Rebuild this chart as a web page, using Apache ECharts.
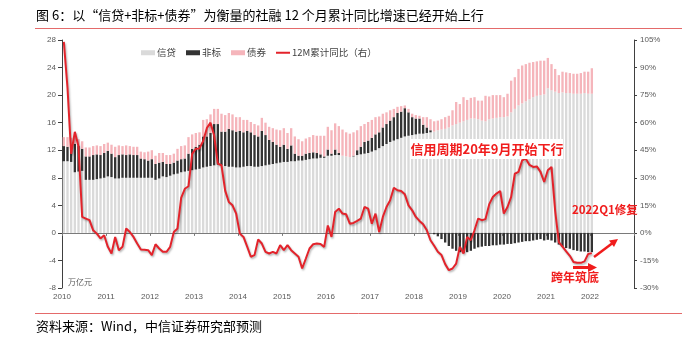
<!DOCTYPE html>
<html><head><meta charset="utf-8">
<script src="https://cdn.jsdelivr.net/npm/echarts@6/dist/echarts.min.js"></script>
<style>html,body{margin:0;padding:0;background:#fff}#c{width:682px;height:339px}</style>
</head><body><div id="c"></div>
<script>
// ---- data (万亿元, 12个月累计; monthly 2010-01 .. 2022-01) ----
const startYear = 2010;
const monthCount = 156; // axis spans 2010-01 .. 2022-12
const seriesNames = ['信贷', '非标', '债券', '12M累计同比（右）'];
const loans = [
  10.4,10.4,10.3,8.8,8.9,9.0,7.7,7.7,7.7,7.8,7.9,8.0,
  8.2,8.1,7.9,7.9,8.0,8.0,8.0,8.0,8.0,8.0,8.0,8.0,
  8.0,7.7,7.9,8.2,8.1,8.3,8.5,8.6,8.8,8.9,9.0,9.1,
  9.2,9.3,9.5,9.6,9.7,9.8,9.9,9.8,9.7,9.6,9.6,9.5,
  9.5,9.6,9.7,9.7,9.6,9.6,9.7,9.8,9.9,10.0,10.1,10.2,
  10.3,10.3,10.4,10.4,10.5,10.5,10.6,10.7,10.8,10.8,10.9,10.9,
  11.2,11.2,11.3,11.3,11.2,11.1,11.0,11.1,11.3,11.4,11.5,11.6,
  11.8,12.0,12.3,12.6,12.9,13.2,13.4,13.6,13.8,14.0,14.1,14.2,
  14.3,14.4,14.4,14.5,14.6,14.7,14.9,15.0,15.1,15.3,15.6,15.8,
  16.0,16.2,16.4,16.6,16.6,16.5,16.3,16.2,16.5,16.6,16.7,16.8,
  16.8,16.9,17.5,18.0,18.5,18.8,19.1,19.4,19.7,19.9,20.0,20.1,
  21.0,20.7,20.5,20.3,20.4,20.3,20.3,20.2,20.2,20.2,20.3,20.2,
  20.2
];
const nonStandard = [
  2.2,2.1,1.7,4.1,3.7,3.2,3.4,3.4,3.6,3.6,3.4,3.6,
  3.7,3.4,3.1,3.4,3.4,3.3,3.4,3.3,3.3,2.8,2.7,2.5,
  2.7,2.3,2.3,2.1,1.9,1.7,1.7,1.9,1.9,1.9,2.5,3.1,
  3.3,3.5,4.5,4.4,4.8,6.0,5.9,4.9,5.0,5.5,5.3,5.2,
  5.3,5.0,5.1,4.9,4.6,4.4,5.1,4.4,3.6,3.2,2.7,2.3,
  2.5,1.9,2.3,1.1,0.7,0.7,0.9,0.9,0.9,0.8,0.5,0.2,
  0.9,0.3,0.8,0.3,0.0,0.0,0.0,0.1,0.7,1.1,1.7,1.8,
  2.0,2.3,2.3,2.7,2.9,3.1,3.4,3.8,3.8,4.1,3.4,2.6,
  2.3,2.2,1.3,0.8,0.3,-0.2,-0.5,-0.9,-1.4,-1.9,-2.3,-2.6,
  -2.8,-2.9,-2.8,-2.6,-2.3,-2.1,-2.0,-1.9,-1.9,-1.8,-1.8,-1.7,
  -1.7,-1.6,-1.6,-1.5,-1.4,-1.3,-1.2,-1.2,-1.1,-1.0,-0.9,-1.1,
  -1.0,-1.1,-1.4,-1.7,-2.0,-2.2,-2.3,-2.5,-2.6,-2.7,-2.7,-2.8,
  -2.8
];
const bonds = [
  1.3,1.4,1.8,1.0,1.0,1.1,1.3,1.3,1.3,1.3,1.3,1.3,
  1.2,1.3,1.5,1.4,1.2,1.4,1.2,1.2,1.2,1.0,1.0,1.3,
  1.3,1.2,1.4,1.3,1.3,1.3,1.3,1.7,1.9,1.9,2.4,2.1,
  2.0,1.8,2.4,2.5,2.7,2.2,2.2,2.6,2.4,2.3,2.3,2.1,
  2.0,1.8,1.6,1.5,1.6,1.6,1.9,1.8,1.9,2.0,2.2,2.4,
  2.4,2.3,2.5,2.5,2.4,2.1,2.2,2.3,2.5,2.5,2.7,3.0,
  3.3,3.4,3.8,3.9,3.8,3.5,3.4,3.4,2.9,3.0,2.6,2.7,
  2.6,2.5,2.3,2.0,1.7,1.5,1.2,0.9,0.8,0.4,0.5,0.5,
  0.5,0.4,1.1,1.5,1.6,1.5,1.4,1.5,1.7,1.7,2.2,3.2,
  2.7,3.5,2.9,3.0,3.1,2.7,2.9,3.7,3.3,3.4,3.3,3.2,
  2.9,3.3,4.6,4.6,5.3,5.5,5.4,5.3,5.1,5.0,5.0,4.9,
  4.4,3.8,3.3,2.6,3.0,3.0,2.9,2.9,2.9,3.0,3.1,3.2,
  3.7
];
const growthPct = [
  104,79,43,55,47,8.7,7.8,6.9,1.4,-0.4,-3,-1.3,
  -7.6,-11.2,-2.2,-9.4,-7.6,2.4,0.5,-2.2,-5.8,-9,-9.2,-9.4,
  -12.1,-6.2,-8.5,-10.3,-10.3,-7.6,0.5,2.4,19,24,25.4,43,
  45.8,46,50,57,60,53,37.7,36.8,23,16.8,15,10.5,
  -0.4,-2.2,-7.5,-13,-12.1,-3.6,-5.8,-10.3,-11.2,-10.3,-11.2,-6.7,
  -9.4,-6.7,-9.4,-11.2,-13,-19.4,-14,-8.5,-6.2,-5.8,-6,-7.6,
  4,-2.2,11.4,13.2,10.5,10.1,5,5.4,6.5,7.8,14.1,13.2,
  5,10.5,0.5,8.7,14.1,17.8,24.6,23.2,22.8,21,15,12.3,
  8.7,6.5,4.7,1.4,-4,-7,-10.3,-12.1,-17,-20.3,-19.4,-16.7,
  -7.6,-11.2,-2.2,-4,1.4,7.8,6.9,7.5,15.5,19.5,21.4,22.8,
  10.5,14.1,19.6,32.2,33.2,39.5,40.4,37,35.9,36.2,33.2,27.7,
  34.1,35.9,12,-5,-7.5,-10,-12.5,-15.8,-16.3,-16.3,-15.5,-11.5,
  -11
];
const leftTicks = {min: -8, max: 28, interval: 4};
const rightTicks = {min: -30, max: 105, interval: 15};

// month categories
const months = [];
for (let i = 0; i < monthCount; i++) {
  const y = startYear + Math.floor(i / 12), m = i % 12 + 1;
  months.push(y + '-' + (m < 10 ? '0' + m : m));
}

const CJK = '"Noto Sans CJK SC", "Noto Sans", sans-serif';
const NUM = '"Liberation Sans", Arial, sans-serif';
const RED = '#f01c1c';
const LINE_RED = '#e3232b';
const axisGray = '#595959';
// thin line legend icon (2px bar centred in a 14x5 box; corner specks are invisible)
const lineIcon = 'path://M0,1.5L14,1.5L14,3.5L0,3.5Z M0,0L0.01,0L0.01,0.01Z M13.99,4.99L14,4.99L14,5L13.99,5Z';

const chart = echarts.init(document.getElementById('c'), null, {renderer: 'canvas'});
chart.setOption({
  animation: false,
  backgroundColor: '#fff',
  grid: {left: 62, right: 48, top: 40, bottom: 51, containLabel: false},
  legend: {
    left: 136, top: 43, itemGap: 10, itemWidth: 14, itemHeight: 5,
    textStyle: {fontFamily: CJK, fontSize: 9.5, color: '#404040', padding: [0, 0, 0, -3]},
    data: [
      {name: seriesNames[0], icon: 'rect'},
      {name: seriesNames[1], icon: 'rect'},
      {name: seriesNames[2], icon: 'rect'},
      {name: seriesNames[3], icon: lineIcon, itemStyle: {color: LINE_RED}}
    ]
  },
  xAxis: [
    {
      type: 'category', data: months, boundaryGap: true,
      axisLine: {onZero: true, lineStyle: {color: '#7a7a7a', width: 1}},
      axisTick: {show: true, length: 3, interval: (i) => i % 12 === 0, lineStyle: {color: '#7a7a7a'}},
      axisLabel: {show: false}, splitLine: {show: false}
    },
    {
      type: 'value', position: 'bottom', min: 0, max: monthCount, interval: 12,
      axisLine: {show: false, onZero: false}, axisTick: {show: false}, splitLine: {show: false},
      axisLabel: {
        showMaxLabel: false, margin: 5, fontFamily: NUM, fontSize: 8, color: axisGray,
        formatter: (v) => String(startYear + v / 12)
      }
    }
  ],
  yAxis: [
    {
      type: 'value', min: leftTicks.min, max: leftTicks.max, interval: leftTicks.interval,
      axisLine: {show: true, lineStyle: {color: '#404040'}},
      axisTick: {show: true, length: 4, lineStyle: {color: '#404040'}},
      axisLabel: {margin: 6, fontFamily: NUM, fontSize: 8, color: axisGray},
      splitLine: {show: false}
    },
    {
      type: 'value', position: 'right', min: rightTicks.min, max: rightTicks.max, interval: rightTicks.interval,
      axisLine: {show: true, lineStyle: {color: '#404040'}},
      axisTick: {show: true, length: 3, lineStyle: {color: '#404040'}},
      axisLabel: {margin: 6, fontFamily: NUM, fontSize: 8, color: axisGray, formatter: '{value}%'},
      splitLine: {show: false}
    }
  ],
  series: [
    {name: seriesNames[0], type: 'bar', stack: 'tsf', data: loans, barWidth: '64%',
     itemStyle: {color: '#dadada'}, z: 2},
    {name: seriesNames[1], type: 'bar', stack: 'tsf', data: nonStandard, barWidth: '64%',
     itemStyle: {color: '#333333'}, z: 2},
    {name: seriesNames[2], type: 'bar', stack: 'tsf', data: bonds, barWidth: '64%',
     itemStyle: {color: '#f5b5bb'}, z: 2},
    {name: seriesNames[3], type: 'line', yAxisIndex: 1, data: growthPct,
     symbol: 'none', showSymbol: false, smooth: false,
     lineStyle: {color: LINE_RED, width: 2, shadowColor: 'rgba(0,0,0,0.3)', shadowBlur: 2, shadowOffsetX: 1, shadowOffsetY: 1.5},
     itemStyle: {color: LINE_RED}, z: 5}
  ],
  graphic: [
    {type: 'text', x: 36, y: 15, z: 10,
     style: {text: '图 6：以“信贷+非标+债券”为衡量的社融 12 个月累计同比增速已经开始上行',
             font: '13px ' + CJK, fill: '#000', verticalAlign: 'middle'}},
    {type: 'line', shape: {x1: 35, y1: 28.5, x2: 682, y2: 28.5}, z: 10,
     style: {stroke: '#e46a6a', lineWidth: 1}},
    {type: 'line', shape: {x1: 35, y1: 313.5, x2: 682, y2: 313.5}, z: 10,
     style: {stroke: '#e46a6a', lineWidth: 1}},
    {type: 'text', x: 36, y: 326, z: 10,
     style: {text: '资料来源：Wind，中信证券研究部预测', font: '13px ' + CJK, fill: '#000', verticalAlign: 'middle'}},
    {type: 'text', x: 68, y: 282, z: 10,
     style: {text: '万亿元', font: '8px ' + CJK, fill: axisGray, verticalAlign: 'middle'}},
    {type: 'rect', shape: {x: 411, y: 139, width: 152, height: 20}, z: 10,
     style: {fill: '#ffffff'}},
    {type: 'text', x: 487, y: 149, z: 11,
     style: {text: '信用周期20年9月开始下行', font: 'bold 13px ' + CJK, fill: RED, align: 'center', verticalAlign: 'middle'}},
    {type: 'text', x: 572, y: 210, z: 11,
     style: {text: '2022Q1修复', font: 'bold 11.5px ' + CJK, fill: RED, verticalAlign: 'middle'}},
    {type: 'text', x: 551, y: 277, z: 11,
     style: {text: '跨年筑底', font: 'bold 12px ' + CJK, fill: RED, verticalAlign: 'middle'}},
    {type: 'line', shape: {x1: 594, y1: 257, x2: 612, y2: 243.5}, z: 11,
     style: {stroke: RED, lineWidth: 2.5}},
    {type: 'polygon', shape: {points: [[618, 239], [614, 247], [609, 240.5]]}, z: 11,
     style: {fill: RED}},
    {type: 'line', shape: {x1: 573, y1: 267.5, x2: 589, y2: 267.5}, z: 11,
     style: {stroke: RED, lineWidth: 3}},
    {type: 'polygon', shape: {points: [[597, 267.5], [588, 263], [588, 272]]}, z: 11,
     style: {fill: RED}}
  ]
});
</script>
</body></html>
